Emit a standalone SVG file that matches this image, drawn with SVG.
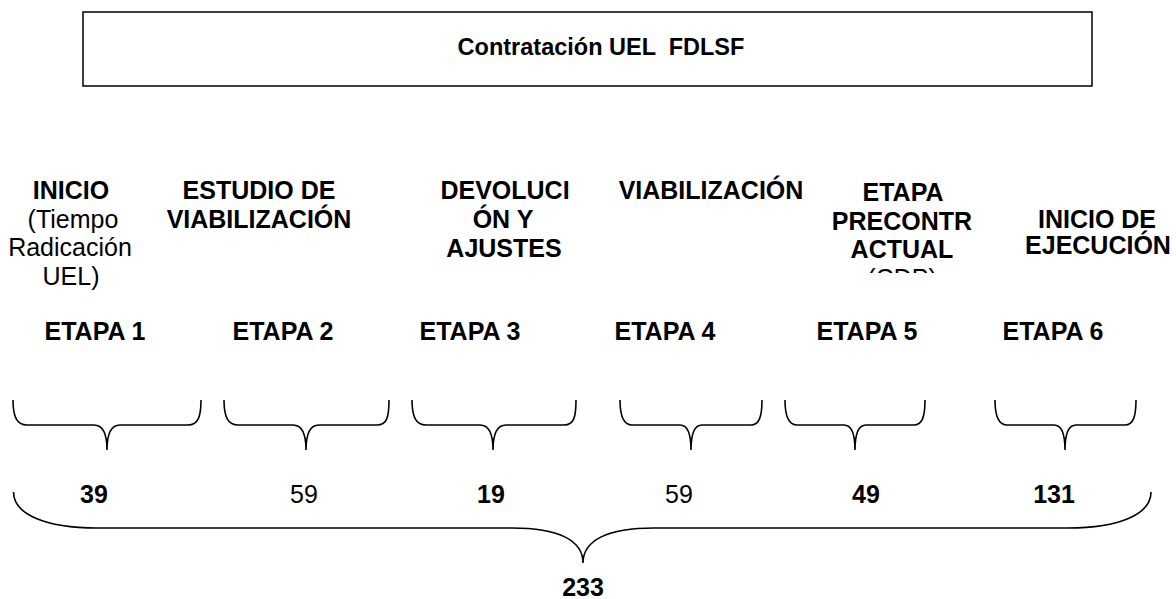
<svg xmlns="http://www.w3.org/2000/svg" width="1176" height="599" viewBox="0 0 1176 599">
<style>
text{font-family:"Liberation Sans",Arial,sans-serif;font-size:25px;fill:#000;text-anchor:middle}
.b{font-weight:bold}
.t{font-weight:bold;font-size:23.5px}
.br{fill:none;stroke:#000;stroke-width:1.6}
</style>
<defs>
<clipPath id="c5"><rect x="800" y="170" width="200" height="103"/></clipPath>
</defs>
<rect width="1176" height="599" fill="#fff"/>
<g id="title">
<rect x="83" y="12" width="1009" height="74" fill="none" stroke="#000" stroke-width="1.5"/>
<text class="t" x="601" y="55" xml:space="preserve">Contratación UEL  FDLSF</text>
</g>
<g id="stage1">
<text class="b" x="71" y="199">INICIO</text>
<text x="73" y="228">(Tiempo</text>
<text x="70" y="256">Radicación</text>
<text x="71" y="285">UEL)</text>
<text class="b" x="95" y="340">ETAPA 1</text>
</g>
<g id="stage2">
<text class="b" x="259" y="199">ESTUDIO DE</text>
<text class="b" x="259" y="228">VIABILIZACIÓN</text>
<text class="b" x="283" y="340">ETAPA 2</text>
</g>
<g id="stage3">
<text class="b" x="505" y="199">DEVOLUCI</text>
<text class="b" x="503" y="228">ÓN Y</text>
<text class="b" x="504" y="257">AJUSTES</text>
<text class="b" x="470" y="340">ETAPA 3</text>
</g>
<g id="stage4">
<text class="b" x="711" y="199">VIABILIZACIÓN</text>
<text class="b" x="665" y="340">ETAPA 4</text>
</g>
<g id="stage5">
<g clip-path="url(#c5)">
<text class="b" x="903" y="201">ETAPA</text>
<text class="b" x="902" y="230">PRECONTR</text>
<text class="b" x="902" y="258">ACTUAL</text>
<text x="902" y="287">(CDP)</text>
</g>
<text class="b" x="867" y="340">ETAPA 5</text>
</g>
<g id="stage6">
<text class="b" x="1097" y="228">INICIO DE</text>
<text class="b" x="1098" y="254">EJECUCIÓN</text>
<text class="b" x="1053" y="340">ETAPA 6</text>
</g>
<g id="connectors">
<path class="br" d="M13,400 C13,417 17,425 27,425 L94,425 C102,425 107,433 107,450 C107,433 112,425 120,425 L188,425 C198,425 201,417 201,400"/>
<path class="br" d="M224,400 C224,417 228,425 238,425 L293,425 C301,425 306,433 306,450 C306,433 311,425 319,425 L377,425 C387,425 389,417 389,400"/>
<path class="br" d="M412,400 C412,417 416,425 426,425 L480,425 C488,425 493,433 493,450 C493,433 498,425 506,425 L564,425 C574,425 576,417 576,400"/>
<path class="br" d="M620,400 C620,417 624,425 632,425 L680,425 C687,425 691,433 691,450 C691,433 695,425 702,425 L751,425 C759,425 762,417 762,400"/>
<path class="br" d="M785,400 C785,417 789,425 797,425 L844,425 C851,425 855,433 855,450 C855,433 859,425 866,425 L914,425 C922,425 925,417 925,400"/>
<path class="br" d="M995,400 C995,417 999,425 1007,425 L1054,425 C1061,425 1065,433 1065,450 C1065,433 1069,425 1076,425 L1125,425 C1133,425 1136,417 1136,400"/>
<path class="br" d="M13.5,492 C13.5,514 45,528 97,528 L512,528 C558,528 583,540 583,563 C583,540 608,528 654,528 L1068,528 C1120,528 1151,514 1151,492"/>
</g>
<g id="values">
<text class="b" x="94" y="503">39</text>
<text x="304" y="503">59</text>
<text class="b" x="491" y="503">19</text>
<text x="679" y="503">59</text>
<text class="b" x="866" y="503">49</text>
<text class="b" x="1054" y="503">131</text>
<text class="b" x="583" y="596">233</text>
</g>
</svg>
